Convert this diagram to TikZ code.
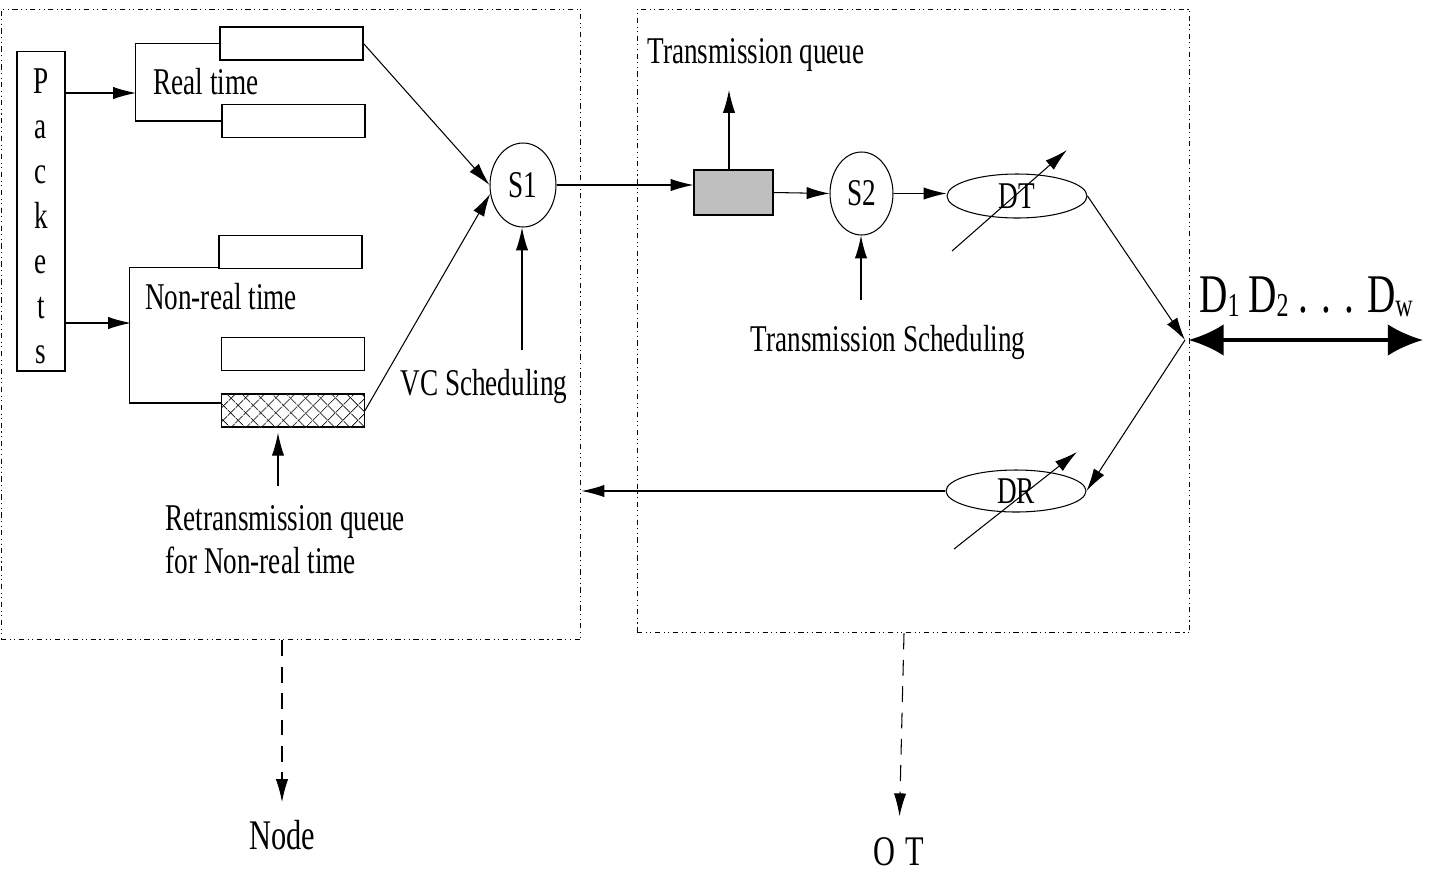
\documentclass[tikz,border=0pt]{standalone}
\usepackage{fontspec}
\setmainfont{Liberation Serif}[FakeStretch=0.72]
\usetikzlibrary{arrows.meta, shapes.geometric, patterns.meta}

\begin{document}
\begin{tikzpicture}[x=0.02cm, y=-0.02cm, line width=0.6pt,
  font=\fontsize{21.5}{24.5}\selectfont,
  >={Latex[length=13pt,width=7pt]},
  frame/.style={draw, dash dot dot, inner sep=0pt},
  queue/.style={draw, minimum width=2.86cm, minimum height=0.66cm, inner sep=0pt},
  sched/.style={draw, ellipse, inner sep=0pt},
  lbl/.style={inner sep=0pt},
  fat/.style={{Latex[length=20pt,width=18pt]}-{Latex[length=20pt,width=18pt]}, line width=2.2pt}]
  \useasboundingbox (0,0) rectangle (1430,873);

  % Frames
  \node[frame, minimum width=11.6cm, minimum height=12.62cm] (nodebox) at (291,324.5) {};
  \node[frame, minimum width=11.06cm, minimum height=12.48cm] (otbox) at (913.5,321) {};

  % Packets
  \node[draw, minimum width=0.96cm, minimum height=6.4cm, inner sep=0pt] (packets) at (41,211) {};
  \foreach \l [count=\i from 0] in {P,a,c,k,e,t,s}
    \node[anchor=base] at (41,{93+45*\i}) {\l};

  % Queues
  \node[queue] (rt1) at (291.5,43.5) {};
  \node[queue] (rt2) at (293.5,121) {};
  \node[queue] (nrt1) at (290.5,252) {};
  \node[queue] (nrt2) at (293,354) {};
  \node[queue, pattern={Lines[angle=45,distance=6.5pt]},
    postaction={pattern={Lines[angle=-45,distance=6.5pt]}}] (retx) at (293,410.5) {};

  \draw (rt1.west) -- ++(-84,0) |- (rt2.west);
  \coordinate (rtin) at (136,93);
  \draw[->] (packets.east |- rtin) -- (rtin);
  \node[lbl] (rtlbl) at (206,82) {Real time};

  \draw ([yshift=0.04cm]nrt1.south west) -- ++(-89,0) |- ([yshift=0.15cm]retx.west);
  \coordinate (nrtin) at (131,323);
  \draw[->] (packets.east |- nrtin) -- (nrtin);
  \node[lbl] (nrtlbl) at (221,297) {Non-real time};

  \node[lbl, align=left, anchor=west] (retlbl) at (165,540) {Retransmission queue\\for Non-real time};
  \coordinate (retin) at (278,486);
  \draw[->, shorten >=3pt] (retin) -- (retin |- retx.south);

  % VC scheduler
  \node[sched, minimum width=1.32cm, minimum height=1.68cm] (s1) at (523,185) {S1};
  \draw[->] (rt1.east) -- (s1.west);
  \draw[->] (retx.east) -- (s1.195);
  \node[lbl] (vclbl) at (484,386) {VC Scheduling};
  \coordinate (vcin) at (522,350);
  \draw[->] (vcin) -- (vcin |- s1.south);

  % Transmission side
  \node[draw, fill=gray!50, minimum width=1.58cm, minimum height=0.9cm, inner sep=0pt] (txq) at (733.5,192.5) {};
  \draw[->] (s1.east) -- (s1.east -| txq.west);
  \coordinate (txout) at (729,90);
  \draw[->] (txout |- txq.north) -- (txout);
  \node[lbl] (txlbl) at (756,55) {Transmission queue};

  \node[sched, minimum width=1.26cm, minimum height=1.66cm] (s2) at (861.5,193.5) {S2};
  \draw[->] (txq.east) -- (s2.west);
  \coordinate (tsin) at (861,300);
  \draw[->] (tsin) -- (tsin |- s2.south);
  \node[lbl] (tslbl) at (888,342) {Transmission Scheduling};

  \node[sched, minimum width=2.8cm, minimum height=0.88cm] (dt) at (1017,196) {DT};
  \draw[->] (s2.east) -- (s2.east -| dt.west);
  \draw[->] ([shift={(-65,55)}]dt.center) -- ([shift={(50,-46)}]dt.center);

  \node[sched, minimum width=2.8cm, minimum height=0.84cm] (dr) at (1016,491) {DR};
  \draw[->] ([shift={(-62,58)}]dr.center) -- ([shift={(61,-39)}]dr.center);
  \draw[->] (dr.west) -- (dr.west -| nodebox.east);

  % Channels
  \coordinate (junc) at (1185,340);
  \coordinate (dend) at (1423,340);
  \draw[->] (dt.east) -- (junc);
  \draw[->] (junc) -- (dr.east);
  \draw[fat] ([xshift=2pt]junc) -- (dend);
  \node[lbl, font=\fontsize{31}{31}\selectfont] (chlbl) at (1306,297)
    {D\raisebox{-2pt}{\fontsize{19}{19}\selectfont 1}\hspace{5pt}D\raisebox{-2pt}{\fontsize{19}{19}\selectfont 2} . . . D\raisebox{-2pt}{\fontsize{19}{19}\selectfont w}};

  % Labels below
  \node[lbl, font=\fontsize{24}{24}\selectfont] (nodelbl) at (282,835) {Node};
  \node[lbl, font=\fontsize{24}{24}\selectfont] (otlbl) at (899,852) {O\hspace{6pt}T};
  \draw[->, dash pattern=on 9pt off 6pt, shorten >=10pt] (nodelbl.north |- nodebox.south) -- (nodelbl.north);
  \draw[->, dash pattern=on 9pt off 6pt, shorten >=12pt] (904,633 |- otbox.south) -- (otlbl.north);
\end{tikzpicture}
\end{document}
